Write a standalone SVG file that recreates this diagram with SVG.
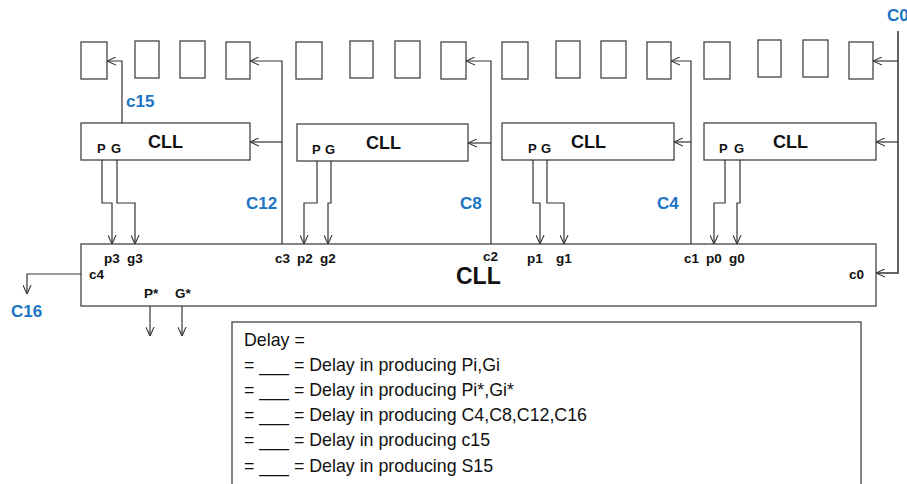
<svg xmlns="http://www.w3.org/2000/svg" width="907" height="484" viewBox="0 0 907 484">
<style>
.box{fill:#fff;stroke:#444;stroke-width:1.3}
.ln{fill:none;stroke:#333;stroke-width:1.2}
.lb{font-family:"Liberation Sans",Arial,sans-serif;font-weight:bold;fill:#111}
.pg{font-size:13px}
.cll{font-size:18px}
.pin{font-size:13.5px}
.blue{font-family:"Liberation Sans",Arial,sans-serif;font-weight:bold;fill:#1a74c4;font-size:17px}
.lg{font-family:"Liberation Sans",Arial,sans-serif;font-size:17.8px;fill:#111}
</style>
<defs>
<marker id="arr" viewBox="0 0 10 10" refX="10" refY="5" markerWidth="9" markerHeight="9" orient="auto" markerUnits="userSpaceOnUse">
<path d="M0,0.5 L10,5 L0,9.5" fill="none" stroke="#333" stroke-width="1.2"/>
</marker>
</defs>
<rect width="907" height="484" fill="#fff"/>

<g id="sum-boxes">
<g id="s15"><rect class="box" x="81" y="42" width="26" height="37"/></g>
<g id="s14"><rect class="box" x="135" y="41" width="24" height="37"/></g>
<g id="s13"><rect class="box" x="180" y="41" width="25" height="37"/></g>
<g id="s12"><rect class="box" x="226" y="42" width="24" height="37"/></g>
<g id="s11"><rect class="box" x="296" y="42" width="26" height="37"/></g>
<g id="s10"><rect class="box" x="350" y="41" width="23" height="37"/></g>
<g id="s9"><rect class="box" x="395" y="41" width="25" height="37"/></g>
<g id="s8"><rect class="box" x="441" y="42" width="25" height="37"/></g>
<g id="s7"><rect class="box" x="502" y="42" width="26" height="37"/></g>
<g id="s6"><rect class="box" x="556" y="41" width="24" height="37"/></g>
<g id="s5"><rect class="box" x="601" y="41" width="25" height="37"/></g>
<g id="s4"><rect class="box" x="647" y="42" width="24" height="37"/></g>
<g id="s3"><rect class="box" x="704" y="42" width="26" height="37"/></g>
<g id="s2"><rect class="box" x="758" y="40" width="23" height="37"/></g>
<g id="s1"><rect class="box" x="803" y="40" width="25" height="37"/></g>
<g id="s0"><rect class="box" x="849" y="42" width="24" height="37"/></g>
</g>

<g id="cll3"><rect class="box" x="81" y="123" width="169" height="37"/>
<text class="lb pg" x="97" y="153">P</text><text class="lb pg" x="111" y="153">G</text>
<text class="lb cll" x="148" y="148">CLL</text></g>
<g id="cll2"><rect class="box" x="297" y="124" width="171" height="37"/>
<text class="lb pg" x="312" y="154">P</text><text class="lb pg" x="325" y="154">G</text>
<text class="lb cll" x="366" y="149">CLL</text></g>
<g id="cll1"><rect class="box" x="502" y="123" width="172" height="37"/>
<text class="lb pg" x="528" y="153">P</text><text class="lb pg" x="541" y="153">G</text>
<text class="lb cll" x="571" y="148">CLL</text></g>
<g id="cll0"><rect class="box" x="704" y="123" width="172" height="37"/>
<text class="lb pg" x="719" y="153">P</text><text class="lb pg" x="734" y="153">G</text>
<text class="lb cll" x="773" y="148">CLL</text></g>

<g id="cll-main"><rect class="box" x="81" y="244" width="795" height="62"/>
<text class="lb pin" x="104" y="263">p3</text><text class="lb pin" x="127" y="263">g3</text>
<text class="lb pin" x="89" y="279">c4</text>
<text class="lb pin" x="275" y="263">c3</text><text class="lb pin" x="297" y="263">p2</text><text class="lb pin" x="320" y="263">g2</text>
<text class="lb pin" x="483" y="261">c2</text>
<text class="lb pin" x="527" y="263">p1</text><text class="lb pin" x="556" y="263">g1</text>
<text class="lb pin" x="684" y="263">c1</text><text class="lb pin" x="706" y="263">p0</text><text class="lb pin" x="729" y="263">g0</text>
<text class="lb pin" x="849" y="279">c0</text>
<text class="lb pin" x="144" y="298">P*</text><text class="lb pin" x="175" y="298">G*</text>
<text class="lb" font-size="23" x="456" y="284">CLL</text></g>

<g id="legend"><rect class="box" x="232" y="322" width="629" height="180"/>
<text class="lg" x="244" y="346">Delay =</text>
<text class="lg" x="244" y="371">= ___ = Delay in producing Pi,Gi</text>
<text class="lg" x="244" y="396">= ___ = Delay in producing Pi*,Gi*</text>
<text class="lg" x="244" y="421">= ___ = Delay in producing C4,C8,C12,C16</text>
<text class="lg" x="244" y="446">= ___ = Delay in producing c15</text>
<text class="lg" x="244" y="472">= ___ = Delay in producing S15</text></g>

<g id="connectors">
<path class="ln" d="M122,123 V61 H107" marker-end="url(#arr)"/>
<path class="ln" d="M282,244 V61 H250" marker-end="url(#arr)"/>
<path class="ln" d="M282,142 H250" marker-end="url(#arr)"/>
<path class="ln" d="M491,244 V61 H466" marker-end="url(#arr)"/>
<path class="ln" d="M491,143 H468" marker-end="url(#arr)"/>
<path class="ln" d="M691,244 V61 H671" marker-end="url(#arr)"/>
<path class="ln" d="M691,142 H674" marker-end="url(#arr)"/>
<path class="ln" d="M898,31 V273 H876" marker-end="url(#arr)" style="stroke-width:1.5"/>
<path class="ln" d="M898,61 H873" marker-end="url(#arr)"/>
<path class="ln" d="M898,142 H876" marker-end="url(#arr)"/>
<path class="ln" d="M102,160 V203 H112 V244" marker-end="url(#arr)"/>
<path class="ln" d="M117,160 V203 H135 V244" marker-end="url(#arr)"/>
<path class="ln" d="M317,161 V203 H304 V244" marker-end="url(#arr)"/>
<path class="ln" d="M331,161 V203 H328 V244" marker-end="url(#arr)"/>
<path class="ln" d="M533,160 V203 H540 V244" marker-end="url(#arr)"/>
<path class="ln" d="M547,160 V203 H564 V244" marker-end="url(#arr)"/>
<path class="ln" d="M725,160 V203 H714 V244" marker-end="url(#arr)"/>
<path class="ln" d="M740,160 V203 H737 V244" marker-end="url(#arr)"/>
<path class="ln" d="M81,274 H27 V294" marker-end="url(#arr)"/>
<path class="ln" d="M150,306 V336" marker-end="url(#arr)"/>
<path class="ln" d="M182,306 V336" marker-end="url(#arr)"/>
</g>

<g id="labels">
<text class="blue" x="126" y="107">c15</text>
<text class="blue" x="246" y="209">C12</text>
<text class="blue" x="460" y="209">C8</text>
<text class="blue" x="657" y="209">C4</text>
<text class="blue" x="11" y="317">C16</text>
<text class="blue" x="887" y="21">C0</text>
</g>
</svg>
